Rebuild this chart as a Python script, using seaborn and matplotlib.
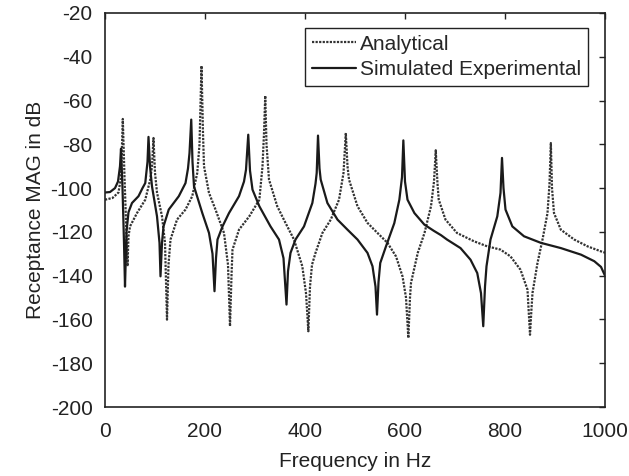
import matplotlib
matplotlib.use("Agg")
import matplotlib.pyplot as plt
import seaborn as sns
import pandas as pd

# ---- data ----
exp_freq = [0, 10, 20, 26, 30, 32, 35, 38, 40, 43, 47, 54, 67, 75, 80.5, 85, 87, 90, 94, 104,
            109, 111, 114, 117, 127.5, 147.6, 161, 166, 169, 172.5, 175, 178, 194.6, 208, 215,
            219, 222, 225, 235, 248, 268, 278, 282, 286.5, 290, 295, 308.7, 331, 348, 357, 363,
            366, 371, 381, 398, 414.7, 421, 423.4, 426, 429, 431.4, 444.8, 465, 485, 505, 525,
            535, 541, 544, 547, 550.5, 562, 578.6, 588.7, 594, 596.7, 600, 605, 618.8, 638.8,
            657.5, 672, 684, 711, 731, 744.5, 752, 756.5, 760, 763, 771, 784.6, 791, 794, 797,
            801, 814.7, 838, 871.6, 911.7, 952, 978.6, 992, 1000]
exp_db = [-102, -101.8, -100, -97, -90, -82, -100, -125, -145, -120, -111, -106.8, -103.7, -100,
          -97.7, -88, -76.6, -90, -99.2, -112.9, -125, -140.3, -125, -117.5, -109.8, -103.7,
          -97.7, -91, -84, -68.7, -88, -99.2, -111.4, -120.5, -130, -147.1, -132, -123.5, -117.5,
          -111.4, -103.7, -97, -91.6, -75.6, -92, -100.7, -108.3, -117.5, -123.5, -132, -153.2,
          -138, -129.6, -123.5, -117.5, -106.8, -98, -93.1, -76, -91, -96.1, -106.8, -114.4,
          -119, -123.5, -129.6, -135.7, -145, -157.8, -143, -134.2, -126.6, -116, -105.3, -95,
          -78.2, -97, -105.3, -111.4, -116.7, -119.5, -121.5, -123.5, -127.4, -132.7, -138.8,
          -148, -163.1, -145, -135.7, -123.5, -112.9, -102.2, -86.2, -100, -109.8, -117.5, -122,
          -125, -127.4, -130.4, -133.4, -136, -140]

ana_freq = [0, 15, 27, 32, 35.6, 39, 42, 45, 47, 50, 64, 80.5, 90.6, 94, 97, 100, 104, 114, 120,
            124, 127, 131, 144, 161, 174.5, 184.5, 189, 193, 196, 198, 208, 221, 238, 246, 250,
            253, 255, 268, 288.5, 308.7, 315, 318, 320.5, 323, 328, 344.5, 361, 378, 394.6, 402,
            406.7, 410, 414, 421, 434.8, 451.5, 468, 477, 481.6, 485, 488, 505, 525, 545, 565,
            582, 595, 602, 606.7, 610, 612, 625.5, 639, 652, 658, 661.5, 665, 667.5, 681, 704,
            738, 764.5, 791, 811, 831, 845, 850, 853, 855, 865, 875, 885, 889, 891.7, 894, 898,
            911.7, 938.5, 965, 992, 1000]
ana_db = [-105.3, -104.5, -102, -95, -68.4, -95, -115, -135.7, -122, -117.5, -111.4, -105.3, -96,
          -90, -77.1, -93, -102, -112.9, -125, -160.1, -135, -123.5, -114.4, -109.8, -103.7,
          -93.1, -80, -44.1, -75, -90, -102.2, -109.8, -120.5, -135, -163.1, -140, -128.1, -119,
          -112.9, -105.3, -90, -75, -57.8, -80, -96.1, -108.3, -115.9, -123.5, -135.7, -148,
          -165.4, -145, -135, -129.6, -120.5, -114.4, -105.3, -93.1, -74.8, -90, -96.1, -108.3,
          -115.9, -120.5, -125, -131.2, -140.3, -150, -168.5, -150, -143.3, -129.6, -120.5,
          -108.3, -97, -82.7, -98, -105.3, -114.4, -120.5, -124.3, -126.6, -128.1, -131.2,
          -137.3, -146.4, -167, -155, -147.9, -134.2, -123.5, -111.4, -98, -79.4, -100, -111.4,
          -119, -123.5, -126.6, -128.9, -129.5]

series_names = ["Analytical", "Simulated Experimental"]
x_ticks = [0, 200, 400, 600, 800, 1000]
y_ticks = [-200, -180, -160, -140, -120, -100, -80, -60, -40, -20]

sns.set_style("white")
plt.rcParams["font.family"] = ["Liberation Sans", "DejaVu Sans"]
plt.rcParams["font.size"] = 15
plt.rcParams["axes.unicode_minus"] = False

fig = plt.figure(figsize=(6.29, 4.76), dpi=100)
ax = fig.add_axes([105 / 629, 1 - 407 / 476, 500 / 629, 394 / 476])

df_a = pd.DataFrame({"f": ana_freq, "db": ana_db})
df_e = pd.DataFrame({"f": exp_freq, "db": exp_db})

sns.lineplot(data=df_a, x="f", y="db", ax=ax, color="#333333", linestyle=(0, (1, 0.6)),
             linewidth=1.6, label=series_names[0], estimator=None, sort=False)
sns.lineplot(data=df_e, x="f", y="db", ax=ax, color="#1a1a1a", linestyle="-",
             linewidth=1.6, label=series_names[1], estimator=None, sort=False)

ax.set_xlim(0, 1000)
ax.set_ylim(-200, -20)
ax.set_xticks(x_ticks)
ax.set_yticks(y_ticks)
ax.set_xlabel("Frequency in Hz", fontsize=15, color="#222222", labelpad=8)
ax.set_ylabel("Receptance MAG in dB", fontsize=15, color="#222222", labelpad=4)
ax.tick_params(axis="both", which="both", direction="in", length=4, width=1,
               top=True, right=True, labelsize=15, colors="#222222", pad=11)
ax.tick_params(axis="y", pad=9)
for s in ax.spines.values():
    s.set_color("#222222")
    s.set_linewidth(1.2)
    s.set_visible(True)

leg = ax.legend(loc="upper right", bbox_to_anchor=(0.965, 0.962), frameon=True,
                fancybox=False, framealpha=1, edgecolor="#222222", fontsize=15,
                handlelength=2.1, handletextpad=0.2, borderpad=0.32, labelspacing=0.3,
                borderaxespad=0)
leg.get_frame().set_linewidth(1.0)

fig.savefig("out.png", dpi=100)
